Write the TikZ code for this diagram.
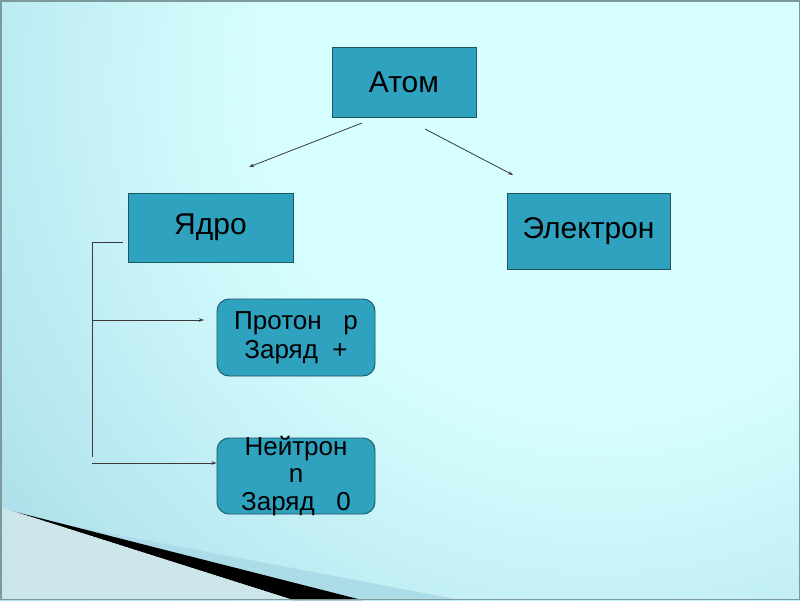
\documentclass[tikz,border=0pt]{standalone}
\usepackage{fontspec}
\setmainfont{Liberation Sans}
\usetikzlibrary{arrows.meta,patterns}
\definecolor{bglight}{HTML}{D8FFFF}
\definecolor{bgblue}{HTML}{A6DAE7}
\definecolor{boxfill}{HTML}{2EA2BE}
\definecolor{boxline}{HTML}{1E5662}
\definecolor{hatchbg}{HTML}{D6EDF1}
\definecolor{hatchln}{HTML}{BCD9DF}
\definecolor{bandblue}{HTML}{ABDCE7}
\definecolor{framec}{HTML}{7C9A9C}
\definecolor{linec}{HTML}{3A3A3A}
\pgfdeclareradialshading{bgshade}{\pgfpoint{0bp}{0bp}}{color(0bp)=(bglight); color(10bp)=(bglight); color(25bp)=(bgblue); color(50bp)=(bgblue)}
\tikzset{
  sqbox/.style={draw=boxline, line width=0.9pt, fill=boxfill, inner sep=0pt, font=\fontsize{30}{34}\selectfont, text=black},
  rbox/.style={draw=boxline, line width=0.9pt, fill=boxfill, rounded corners=12pt, inner xsep=0pt, inner ysep=-6pt, align=center, text=black},
  conn/.style={draw=linec, line width=0.8pt, -{Stealth[length=5pt,width=3.5pt]}},
  plainconn/.style={draw=linec, line width=0.8pt}
}
\begin{document}
\begin{tikzpicture}[x=1pt,y=-1pt]
\useasboundingbox (0,0) rectangle (800,600);
% background
\begin{scope}
\clip (0,0) rectangle (800,600);
\shade[shading=bgshade] (600,80) circle (820);
% bottom-left decoration
\fill[bandblue] (40,520) -- (460,600) -- (362,600) -- cycle;
\fill[black] (8,510) -- (362,600) -- (293,600) -- cycle;
\fill[hatchbg] (0,507) -- (293,600) -- (0,600) -- cycle;
\fill[pattern=north west lines, pattern color=hatchln] (0,507) -- (293,600) -- (0,600) -- cycle;
\end{scope}
\draw[framec, line width=1.5pt] (0.75,0.75) rectangle (799.25,599.25);
% nodes
\node[sqbox, minimum width=144pt, minimum height=70pt] (atom) at (404,82) {Атом};
\node[sqbox, minimum width=165pt, minimum height=69pt] (yadro) at (210.5,227.5) {Ядро};
\node[sqbox, minimum width=163pt, minimum height=76pt] (elektron) at (588.5,231) {Электрон};
\node[rbox, font=\fontsize{26}{29}\selectfont, minimum width=158pt, minimum height=77pt] (proton) at (296,337.5) {Протон~~~p\\Заряд~~+};
\node[rbox, font=\fontsize{26}{27.5}\selectfont, minimum width=158pt, minimum height=76pt] (neitron) at (296,476) {Нейтрон\\n\\Заряд~~~0};
% connectors
\coordinate (a1) at (362,123);
\coordinate (a1e) at (249,167);
\coordinate (a2) at (425,129);
\coordinate (a2e) at (513,175);
\draw[conn] (a1) -- (a1e);
\draw[conn] (a2) -- (a2e);
\coordinate (b0) at ([xshift=-5pt]yadro.west |- 0,242);
\coordinate (b1) at (92,242);
\coordinate (b2) at (92,457);
\coordinate (bp) at (92,320);
\coordinate (bpe) at (204,320);
\coordinate (bn) at (92,463);
\draw[plainconn] (b0) -- (b1) -- (b2);
\draw[conn] (bp) -- (bpe);
\draw[conn] (bn) -- (neitron.west |- bn);
\end{tikzpicture}
\end{document}
